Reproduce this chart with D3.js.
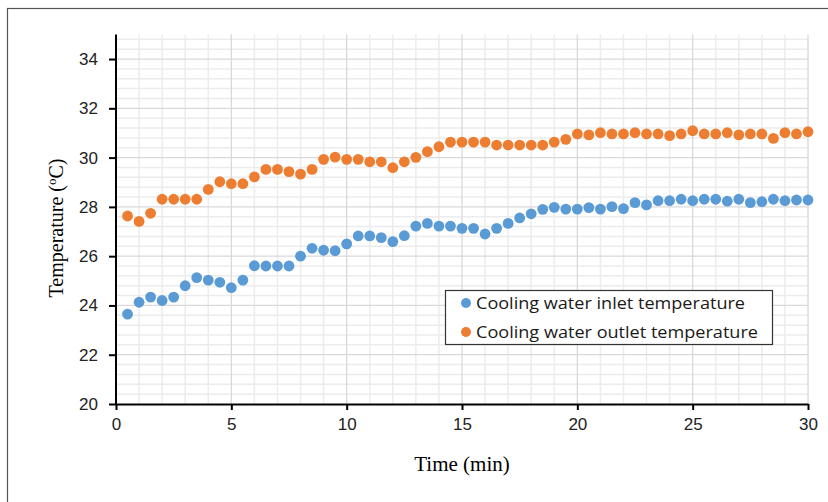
<!DOCTYPE html>
<html>
<head>
<meta charset="utf-8">
<script src="https://cdn.jsdelivr.net/npm/d3@7"></script>
<style>
  html, body { margin: 0; padding: 0; background: #fff; }
  svg { display: block; }
</style>
</head>
<body>
<svg id="chart" width="828" height="502"></svg>
<script>
// ---- data ----
const times = [0.5,1,1.5,2,2.5,3,3.5,4,4.5,5,5.5,6,6.5,7,7.5,8,8.5,9,9.5,10,
  10.5,11,11.5,12,12.5,13,13.5,14,14.5,15,15.5,16,16.5,17,17.5,18,18.5,19,19.5,20,
  20.5,21,21.5,22,22.5,23,23.5,24,24.5,25,25.5,26,26.5,27,27.5,28,28.5,29,29.5,30];
const inletTemp = [23.65,24.13,24.34,24.2,24.34,24.8,25.13,25.03,24.94,24.72,
  25.03,25.61,25.6,25.6,25.6,26.0,26.32,26.24,26.22,26.5,
  26.82,26.82,26.75,26.59,26.83,27.22,27.33,27.22,27.22,27.13,
  27.13,26.9,27.13,27.33,27.55,27.72,27.9,27.98,27.91,27.91,
  27.97,27.91,28.01,27.93,28.17,28.08,28.25,28.25,28.31,28.25,
  28.31,28.31,28.23,28.31,28.17,28.21,28.31,28.25,28.28,28.28];
const outletTemp = [27.63,27.41,27.74,28.31,28.31,28.31,28.31,28.71,29.02,28.94,
  28.94,29.22,29.52,29.52,29.43,29.33,29.52,29.93,30.02,29.93,
  29.93,29.83,29.83,29.59,29.83,30.01,30.24,30.44,30.63,30.63,
  30.63,30.63,30.51,30.51,30.51,30.51,30.51,30.63,30.74,30.96,
  30.92,31.01,30.96,30.96,31.01,30.96,30.96,30.89,30.96,31.09,
  30.96,30.96,31.01,30.92,30.96,30.96,30.78,31.01,30.96,31.05];
const seriesNames = ["Cooling water inlet temperature", "Cooling water outlet temperature"];
const seriesColors = ["#5B9BD5", "#ED7D31"];
const xTicks = [0,5,10,15,20,25,30];
const yTicks = [20,22,24,26,28,30,32,34];

// ---- layout ----
const svg = d3.select("#chart");
const pL = 116, pR = 808, pT = 34.4, pB = 404;
const x = d3.scaleLinear().domain([0, 30]).range([pL, pR]);
const y = d3.scaleLinear().domain([20, 35]).range([pB, pT]);

// outer frame
svg.append("rect").attr("x", 7.5).attr("y", 8.5).attr("width", 840).attr("height", 520)
  .attr("fill", "#fff").attr("stroke", "#555").attr("stroke-width", 1.2);

// minor gridlines
const minorX = d3.range(1, 31, 1).filter(v => v % 5 !== 0);
const minorY = d3.range(0, 38).map(i => +(20 + i * 0.4).toFixed(1)).filter(v => v <= 35 && Math.abs(v/2 - Math.round(v/2)) > 1e-6);
const g = svg.append("g");
g.selectAll(".mx").data(minorX).join("line")
  .attr("x1", d => x(d)).attr("x2", d => x(d)).attr("y1", pT).attr("y2", pB)
  .attr("stroke", "#ececec").attr("stroke-width", 1.5);
g.selectAll(".my").data(minorY).join("line")
  .attr("y1", d => y(d)).attr("y2", d => y(d)).attr("x1", pL).attr("x2", pR)
  .attr("stroke", "#ececec").attr("stroke-width", 1.5);
// major gridlines
g.selectAll(".Mx").data(xTicks.filter(v => v > 0)).join("line")
  .attr("x1", d => x(d)).attr("x2", d => x(d)).attr("y1", pT).attr("y2", pB)
  .attr("stroke", "#d9d9d9").attr("stroke-width", 1.3);
g.selectAll(".My").data(yTicks.filter(v => v > 20)).join("line")
  .attr("y1", d => y(d)).attr("y2", d => y(d)).attr("x1", pL).attr("x2", pR)
  .attr("stroke", "#d9d9d9").attr("stroke-width", 1.3);

// axes
const fontTick = "'Liberation Sans', Arial, sans-serif";
const xAxis = svg.append("g").attr("transform", `translate(0,${pB})`)
  .call(d3.axisBottom(x).tickValues(xTicks).tickSize(6).tickPadding(8).tickSizeOuter(0));
const yAxis = svg.append("g").attr("transform", `translate(${pL},0)`)
  .call(d3.axisLeft(y).tickValues(yTicks).tickSize(7).tickPadding(11).tickSizeOuter(0));
[xAxis, yAxis].forEach(a => {
  a.select(".domain").attr("stroke", "#000").attr("stroke-width", 2);
  a.selectAll(".tick line").attr("stroke", "#000").attr("stroke-width", 2);
  a.selectAll(".tick text").attr("fill", "#222").style("font-family", fontTick).style("font-size", "17px");
});
yAxis.select(".domain").attr("d", `M0,${pB}V${pT}`);

// points
const data = [inletTemp, outletTemp];
data.forEach((vals, si) => {
  svg.append("g").selectAll("circle").data(times.map((t, i) => [t, vals[i]])).join("circle")
    .attr("cx", d => x(d[0])).attr("cy", d => y(d[1])).attr("r", 5.4)
    .attr("fill", seriesColors[si]);
});

// axis titles
svg.append("text").attr("x", 462).attr("y", 471).attr("text-anchor", "middle")
  .style("font-family", "'Liberation Serif', 'Times New Roman', serif").style("font-size", "21px")
  .attr("fill", "#000").text("Time (min)");
const yt = svg.append("text").attr("transform", "translate(63,228) rotate(-90)")
  .attr("text-anchor", "middle")
  .style("font-family", "'Liberation Serif', 'Times New Roman', serif").style("font-size", "20px")
  .attr("fill", "#000");
yt.append("tspan").text("Temperature (");
yt.append("tspan").attr("dy", -7).style("font-size", "13px").text("o");
yt.append("tspan").attr("dy", 7).text("C)");

// legend
const lg = svg.append("g");
lg.append("rect").attr("x", 445.5).attr("y", 290.5).attr("width", 327).attr("height", 54)
  .attr("fill", "#fff").attr("stroke", "#333").attr("stroke-width", 1.2);
const legendW = [269, 282];
seriesNames.forEach((name, i) => {
  const cy = 303 + i * 29;
  lg.append("circle").attr("cx", 466).attr("cy", cy).attr("r", 5).attr("fill", seriesColors[i]);
  lg.append("text").attr("x", 476).attr("y", cy + 6)
    .style("font-family", "'Open Sans', sans-serif").style("font-size", "16px")
    .attr("textLength", legendW[i]).attr("lengthAdjust", "spacingAndGlyphs")
    .attr("fill", "#1a1a1a").text(name);
});
</script>
</body>
</html>
